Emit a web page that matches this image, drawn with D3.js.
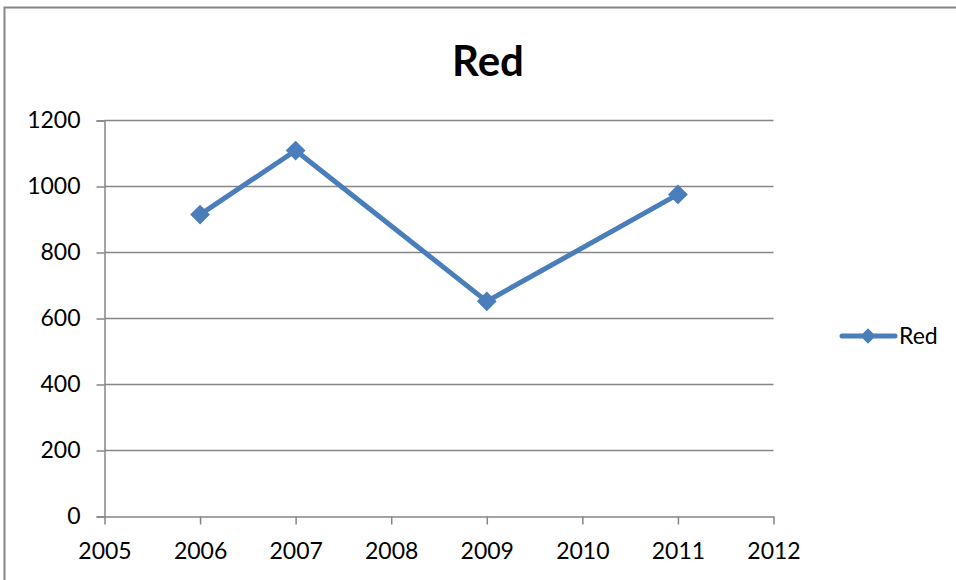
<!DOCTYPE html>
<html>
<head>
<meta charset="utf-8">
<script src="https://cdn.jsdelivr.net/npm/d3@7/dist/d3.min.js"></script>
<style>
  html, body { margin: 0; padding: 0; background: #fff; }
  svg { display: block; font-family: Lato, "Open Sans", sans-serif; }
</style>
</head>
<body>
<svg id="chart" width="956" height="580"></svg>
<script>
// Series data
const years = [2006, 2007, 2009, 2011];
const redValues = [915, 1109, 652, 976];
const yTicks = [0, 200, 400, 600, 800, 1000, 1200];
const xTicks = [2005, 2006, 2007, 2008, 2009, 2010, 2011, 2012];
const seriesName = "Red";
const chartTitle = "Red";

const svg = d3.select("#chart");
const lineColor = "#4a7ebb";
const axisColor = "#868686";
const fontSize = 23;

// Outer chart frame
svg.append("rect")
  .attr("x", 4.5).attr("y", 7.5)
  .attr("width", 960).attr("height", 600)
  .attr("fill", "none").attr("stroke", axisColor).attr("stroke-width", 2);

const x = d3.scaleLinear().domain([2005, 2012]).range([104.5, 773.5]);
const y = d3.scaleLinear().domain([0, 1200]).range([516.5, 120.5]);

// Horizontal gridlines
svg.append("g").selectAll("line")
  .data(yTicks.filter(d => d > 0))
  .join("line")
  .attr("x1", x(2005)).attr("x2", x(2012))
  .attr("y1", d => y(d)).attr("y2", d => y(d))
  .attr("stroke", axisColor).attr("stroke-width", 1.5);

// Y axis
const yAxis = svg.append("g")
  .attr("transform", `translate(${x(2005)},0)`)
  .call(d3.axisLeft(y).tickValues(yTicks).tickSize(8).tickPadding(16).tickFormat(d3.format("d")));
yAxis.select(".domain").attr("stroke", axisColor).attr("stroke-width", 1.5);
yAxis.selectAll(".tick line").attr("stroke", axisColor).attr("stroke-width", 1.5);
yAxis.selectAll("text").attr("fill", "#000").style("font-size", fontSize + "px")
  .style("font-family", "Lato, 'Open Sans', sans-serif");

// X axis
const xAxis = svg.append("g")
  .attr("transform", `translate(0,${y(0)})`)
  .call(d3.axisBottom(x).tickValues(xTicks).tickSize(8).tickSizeOuter(0).tickPadding(18).tickFormat(d3.format("d")));
xAxis.select(".domain").attr("stroke", axisColor).attr("stroke-width", 1.5);
xAxis.selectAll(".tick line").attr("stroke", axisColor).attr("stroke-width", 1.5);
xAxis.selectAll("text").attr("fill", "#000").style("font-size", fontSize + "px")
  .style("font-family", "Lato, 'Open Sans', sans-serif");

// Title
svg.append("text")
  .attr("x", 488).attr("y", 76)
  .attr("text-anchor", "middle")
  .style("font-size", "42px").style("font-weight", "bold")
  .text(chartTitle);

// Series line
const data = years.map((yr, i) => ({ year: yr, value: redValues[i] }));
const line = d3.line().x(d => x(d.year)).y(d => y(d.value));
svg.append("path")
  .datum(data)
  .attr("d", line)
  .attr("fill", "none")
  .attr("stroke", lineColor)
  .attr("stroke-width", 5)
  .attr("stroke-linejoin", "round");

// Diamond markers
const diamond = d3.symbol().type(d3.symbolDiamond2).size(250);
svg.append("g").selectAll("path")
  .data(data)
  .join("path")
  .attr("transform", d => `translate(${x(d.year)},${y(d.value)})`)
  .attr("d", diamond)
  .attr("fill", lineColor);

// Legend
const lg = svg.append("g").attr("transform", "translate(0,336)");
lg.append("line")
  .attr("x1", 842).attr("x2", 895)
  .attr("stroke", lineColor).attr("stroke-width", 5).attr("stroke-linecap", "round");
lg.append("path")
  .attr("transform", "translate(868,0)")
  .attr("d", d3.symbol().type(d3.symbolDiamond2).size(150))
  .attr("fill", lineColor);
lg.append("text")
  .attr("x", 899).attr("y", 0).attr("dy", "0.35em")
  .style("font-size", fontSize + "px")
  .text(seriesName);
</script>
</body>
</html>
